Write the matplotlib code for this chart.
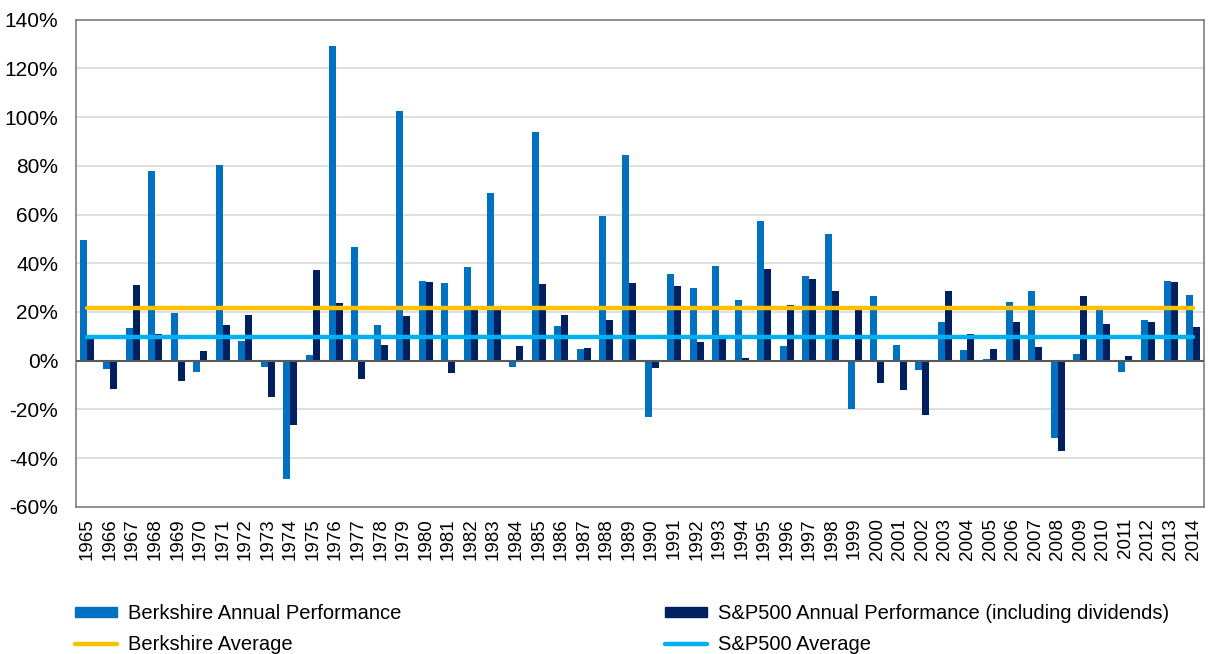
import numpy as np
import matplotlib.pyplot as plt
from matplotlib.patches import Patch
from matplotlib.lines import Line2D

plt.rcParams['font.family'] = ['Liberation Sans', 'DejaVu Sans']

years = list(range(1965, 2015))
berkshire = [49.5, -3.4, 13.3, 77.8, 19.4, -4.6, 80.5, 8.1, -2.5, -48.7,
             2.5, 129.3, 46.8, 14.5, 102.5, 32.8, 31.8, 38.4, 69.0, -2.7,
             93.7, 14.2, 4.6, 59.3, 84.6, -23.1, 35.6, 29.8, 38.9, 25.0,
             57.4, 6.2, 34.9, 52.2, -19.9, 26.6, 6.5, -3.8, 15.8, 4.3,
             0.8, 24.1, 28.7, -31.8, 2.7, 21.4, -4.7, 16.8, 32.7, 27.0]
sp500 = [10.0, -11.7, 30.9, 11.0, -8.4, 3.9, 14.6, 18.9, -14.8, -26.4,
         37.2, 23.6, -7.4, 6.4, 18.2, 32.3, -5.0, 21.4, 22.4, 6.1,
         31.6, 18.6, 5.1, 16.6, 31.7, -3.1, 30.5, 7.6, 10.1, 1.3,
         37.6, 23.0, 33.4, 28.6, 21.0, -9.1, -11.9, -22.1, 28.7, 10.9,
         4.9, 15.8, 5.5, -37.0, 26.5, 15.1, 2.1, 16.0, 32.4, 13.7]
berkshire_avg = 21.6
sp500_avg = 9.9

c_berk = '#0070C0'
c_sp = '#002060'
c_berk_avg = '#FFC000'
c_sp_avg = '#00B0F0'

fig = plt.figure(figsize=(12.08, 6.54), dpi=100)
ax = fig.add_axes([0.063, 0.225, 0.934, 0.745])

x = np.arange(len(years))
w = 0.31
ax.bar(x - w/2, berkshire, w, color=c_berk, zorder=2)
ax.bar(x + w/2, sp500, w, color=c_sp, zorder=2)
ax.plot([x[0], x[-1]], [berkshire_avg]*2, color=c_berk_avg, lw=3.2, zorder=3, solid_capstyle='round')
ax.plot([x[0], x[-1]], [sp500_avg]*2, color=c_sp_avg, lw=3.2, zorder=3, solid_capstyle='round')

ax.set_xlim(-0.5, len(years) - 0.5)
ax.set_ylim(-60, 140)
ax.set_yticks(np.arange(-60, 141, 20))
ax.set_yticklabels(['%d%%' % v for v in range(-60, 141, 20)], fontsize=15)
ax.set_xticks(x)
ax.set_xticklabels([str(y) for y in years], rotation=90, fontsize=13.5)
ax.tick_params(axis='y', length=0, pad=13)
ax.tick_params(axis='x', length=0, pad=8)
ax.grid(axis='y', color='#D9D9D9', lw=1.2, zorder=0)
ax.axhline(0, color='#595959', lw=1.5, zorder=4)
for s in ax.spines.values():
    s.set_color('#7F7F7F')
    s.set_linewidth(1.2)

h1 = [Patch(color=c_berk), Line2D([], [], color=c_berk_avg, lw=3.2, solid_capstyle='round')]
h2 = [Patch(color=c_sp), Line2D([], [], color=c_sp_avg, lw=3.2, solid_capstyle='round')]
kw = dict(frameon=False, fontsize=14.5, handlelength=2.1, handleheight=0.4,
          handletextpad=0.55, labelspacing=0.6, borderaxespad=0, borderpad=0)
fig.legend(h1, ['Berkshire Annual Performance', 'Berkshire Average'],
           loc='upper left', bbox_to_anchor=(0.062, 0.0765), **kw)
fig.legend(h2, ['S&P500 Annual Performance (including dividends)', 'S&P500 Average'],
           loc='upper left', bbox_to_anchor=(0.5505, 0.0765), **kw)

fig.savefig('out.png', dpi=100)
